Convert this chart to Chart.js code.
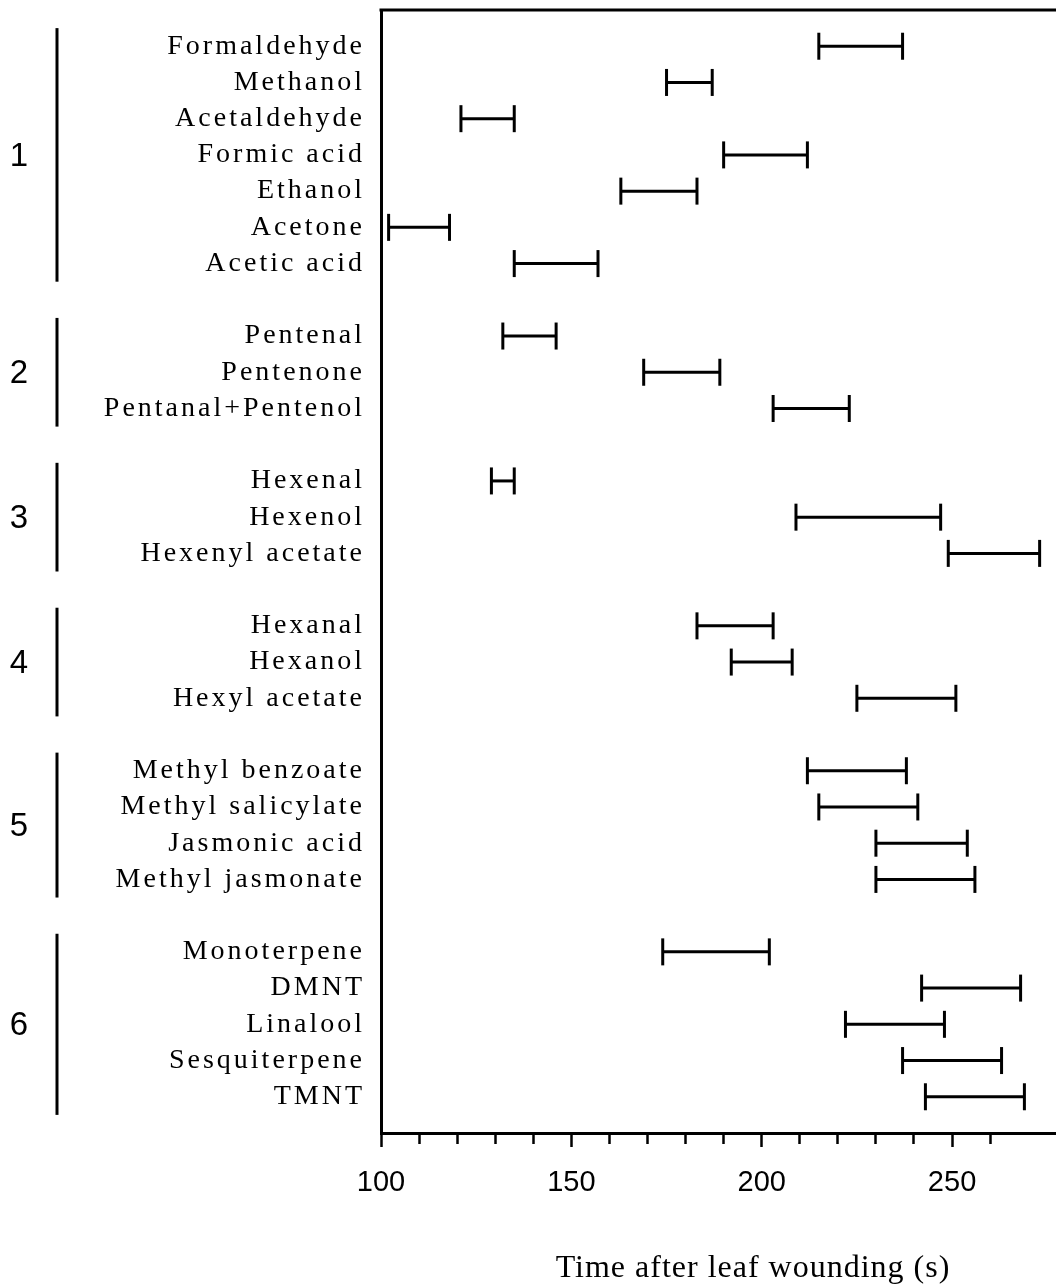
<!DOCTYPE html>
<html>
<head>
<meta charset="utf-8">
<script src="https://cdn.jsdelivr.net/npm/chart.js@4.4.1/dist/chart.umd.min.js"></script>
<style>
  html, body { margin: 0; padding: 0; overflow: hidden; background: #fff; }
  #wrap { width: 1056px; height: 1284px; position: relative; }
  canvas { display: block; }
</style>
</head>
<body>
<div id="wrap"><canvas id="timeChart"></canvas></div>
<script>
// compounds top to bottom, with their group number
const compounds = [
  "Formaldehyde", "Methanol", "Acetaldehyde", "Formic acid", "Ethanol", "Acetone", "Acetic acid",
  "Pentenal", "Pentenone", "Pentanal+Pentenol",
  "Hexenal", "Hexenol", "Hexenyl acetate",
  "Hexanal", "Hexanol", "Hexyl acetate",
  "Methyl benzoate", "Methyl salicylate", "Jasmonic acid", "Methyl jasmonate",
  "Monoterpene", "DMNT", "Linalool", "Sesquiterpene", "TMNT"
];
const groups = [1, 1, 1, 1, 1, 1, 1, 2, 2, 2, 3, 3, 3, 4, 4, 4, 5, 5, 5, 5, 6, 6, 6, 6, 6];

// interval start / end (s)
const startTimes = [215, 175, 121, 190, 163, 102, 135, 132, 169, 203, 129, 209, 249, 183, 192, 225, 212, 215, 230, 230, 174, 242, 222, 237, 243];
const endTimes   = [237, 187, 135, 212, 183, 118, 157, 146, 189, 223, 135, 247, 273, 203, 208, 251, 238, 241, 254, 256, 202, 268, 248, 263, 269];

const xTickLabels = [100, 150, 200, 250];
const axisTitle = "Time after leaf wounding (s)";

// one empty row between groups
const rows = compounds.map((c, i) => i + groups[i] - 1);
const rowLabels = {};
compounds.forEach((c, i) => { rowLabels[rows[i]] = c; });
const lastRow = rows[rows.length - 1];

const datasets = compounds.map((c, i) => ({
  label: c,
  data: [{ x: startTimes[i], y: rows[i] }, { x: endTimes[i], y: rows[i] }],
  showLine: true,
  borderColor: "#000",
  borderWidth: 3,
  pointStyle: "line",
  pointRotation: 90,
  pointRadius: 13.5,
  pointHoverRadius: 13.5,
  pointBorderWidth: 3,
  pointBorderColor: "#000"
}));

// y labels are spaced out in the original, x labels are not
// also draws the top edge of the frame
const spacing = {
  id: "spacing",
  beforeDraw(chart) { chart.ctx.letterSpacing = "3px"; },
  beforeDatasetsDraw(chart) {
    const ctx = chart.ctx;
    const a = chart.chartArea;
    ctx.letterSpacing = "0px";
    ctx.save();
    ctx.strokeStyle = "#000";
    ctx.lineWidth = 3;
    ctx.beginPath();
    ctx.moveTo(a.left - 1.5, a.top);
    ctx.lineTo(a.right, a.top);
    ctx.stroke();
    ctx.restore();
  }
};

// group brackets + numbers on the left, and the axis title
const groupMarks = {
  id: "groupMarks",
  afterDraw(chart) {
    const ctx = chart.ctx;
    const yS = chart.scales.y;
    ctx.save();
    ctx.letterSpacing = "0px";
    ctx.strokeStyle = "#000";
    ctx.fillStyle = "#000";
    ctx.lineWidth = 3;
    const ids = [...new Set(groups)];
    ids.forEach(g => {
      const r = rows.filter((v, i) => groups[i] === g);
      const y1 = yS.getPixelForValue(r[0] - 0.5);
      const y2 = yS.getPixelForValue(r[r.length - 1] + 0.5);
      ctx.beginPath();
      ctx.moveTo(57, y1);
      ctx.lineTo(57, y2);
      ctx.stroke();
      ctx.font = "33px 'Liberation Sans', Arial, sans-serif";
      ctx.textAlign = "center";
      ctx.textBaseline = "middle";
      ctx.fillText(String(g), 19, (y1 + y2) / 2 + 2);
    });
    ctx.font = "32px 'Liberation Serif', 'Times New Roman', serif";
    ctx.letterSpacing = "1px";
    ctx.textAlign = "center";
    ctx.textBaseline = "alphabetic";
    ctx.fillText(axisTitle, 753, 1277);
    ctx.restore();
  }
};

new Chart(document.getElementById("timeChart"), {
  type: "scatter",
  data: { datasets },
  options: {
    responsive: true,
    maintainAspectRatio: false,
    animation: false,
    events: [],
    layout: { padding: { top: 10, left: 0, right: 0, bottom: 0 }, autoPadding: false },
    plugins: {
      legend: { display: false },
      tooltip: { enabled: false }
    },
    scales: {
      x: {
        type: "linear",
        position: "bottom",
        min: 100,
        max: 277.3,
        afterFit: (s) => { s.height = 151; s.paddingLeft = 0; s.paddingRight = 0; },
        // border must come after grid, otherwise its position is not known yet
        border: { display: true, color: "#000", width: 3, z: 1 },
        grid: {
          z: 1,
          drawOnChartArea: false,
          drawTicks: true,
          tickLength: 14,
          tickWidth: 2.5,
          tickColor: (ctx) => (ctx.tick && ctx.tick.value % 10 === 0 ? "#000" : "rgba(0,0,0,0)"),
          tickBorderDash: (ctx) => (ctx.tick && ctx.tick.value % 50 === 0 ? [] : [9, 40])
        },
        ticks: {
          z: 1,
          stepSize: 10,
          autoSkip: false,
          maxRotation: 0,
          padding: 19,
          color: "#000",
          font: { family: "'Liberation Sans', Arial, sans-serif", size: 29 },
          callback: (v) => (xTickLabels.includes(v) ? String(v) : "")
        }
      },
      y: {
        type: "linear",
        reverse: true,
        min: -1,
        max: lastRow + 1,
        afterFit: (s) => { s.width = 381; s.paddingTop = 0; s.paddingBottom = 0; },
        border: { display: true, color: "#000", width: 3 },
        grid: { drawOnChartArea: false, drawTicks: false },
        ticks: {
          stepSize: 1,
          autoSkip: false,
          padding: 16,
          color: "#000",
          font: { family: "'Liberation Serif', 'Times New Roman', serif", size: 28 },
          callback: (v) => rowLabels[v] || ""
        }
      }
    }
  },
  plugins: [spacing, groupMarks]
});
</script>
</body>
</html>
